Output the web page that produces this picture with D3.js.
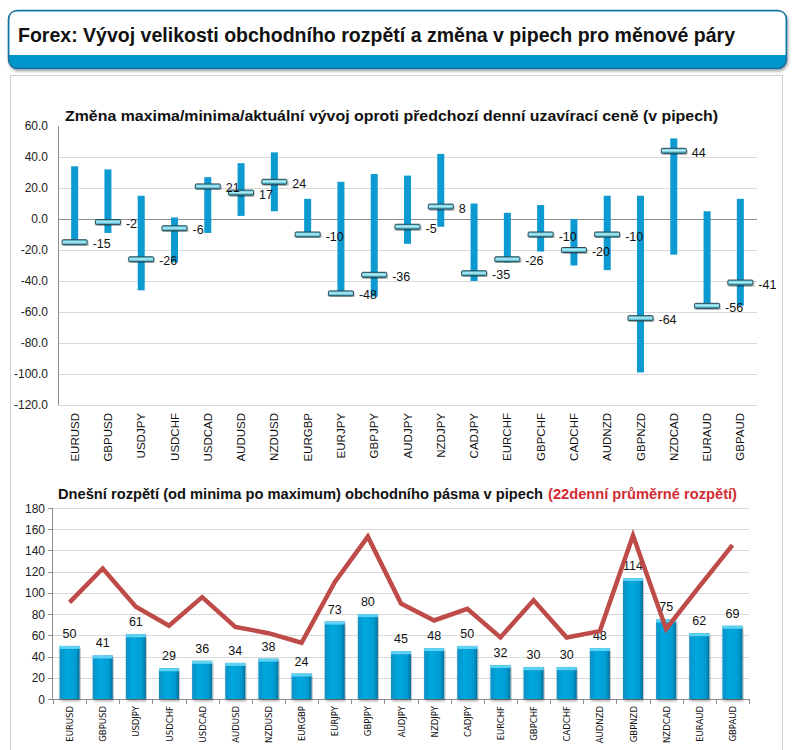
<!DOCTYPE html>
<html><head><meta charset="utf-8">
<script src="https://cdn.jsdelivr.net/npm/d3@7"></script>
<style>body{margin:0;background:#fff;}svg{display:block;}</style>
</head><body>
<svg id="c" width="795" height="750"></svg>
<script>
const pairs = ["EURUSD","GBPUSD","USDJPY","USDCHF","USDCAD","AUDUSD","NZDUSD","EURGBP","EURJPY","GBPJPY","AUDJPY","NZDJPY","CADJPY","EURCHF","GBPCHF","CADCHF","AUDNZD","GBPNZD","NZDCAD","EURAUD","GBPAUD"];
const changeHigh = [34,32,15,1,27,36,43,13,24,29,28,42,10,4,9,0,15,15,52,5,13];
const changeLow = [-16,-9,-46,-28,-9,2,5,-10,-48,-50,-16,-5,-40,-28,-21,-30,-33,-99,-23,-57,-56];
const changeNow = [-15,-2,-26,-6,21,17,24,-10,-48,-36,-5,8,-35,-26,-10,-20,-10,-64,44,-56,-41];
const topTicks = [60,40,20,0,-20,-40,-60,-80,-100,-120];
const rangeToday = [50,41,61,29,36,34,38,24,73,80,45,48,50,32,30,30,48,114,75,62,69];
const range22 = [91,123,87,69,96,68,62,53,110,153,90,74,85,58,93,58,64,154,66,106,145];
const botTicks = [0,20,40,60,80,100,120,140,160,180];

const svg = d3.select("#c");
const defs = svg.append("defs");
const sh = defs.append("filter").attr("id","sh").attr("x","-5%").attr("y","-10%").attr("width","110%").attr("height","130%");
sh.append("feDropShadow").attr("dx",1).attr("dy",2).attr("stdDeviation",1.5).attr("flood-color","#000").attr("flood-opacity",0.35);
const mg = defs.append("linearGradient").attr("id","mg").attr("x1",0).attr("y1",0).attr("x2",0).attr("y2",1);
mg.append("stop").attr("offset","0").attr("stop-color","#3fbcd6");
mg.append("stop").attr("offset","0.45").attr("stop-color","#b8eef7");
mg.append("stop").attr("offset","1").attr("stop-color","#1895b2");
const bg = defs.append("linearGradient").attr("id","bg").attr("x1",0).attr("y1",0).attr("x2",1).attr("y2",0);
bg.append("stop").attr("offset","0").attr("stop-color","#0890c6");
bg.append("stop").attr("offset","0.35").attr("stop-color","#04a8de");
bg.append("stop").attr("offset","0.8").attr("stop-color","#049cd3");
bg.append("stop").attr("offset","1").attr("stop-color","#05709c");

// Header box
const hdr = svg.append("g");
hdr.append("rect").attr("x",8.5).attr("y",10.5).attr("width",778).attr("height",58).attr("rx",9)
  .attr("fill","#0096cc").attr("stroke","#1b6e9c").attr("stroke-width",1.5).attr("filter","url(#sh)");
hdr.append("path").attr("d","M9.5,55 L9.5,19.5 Q9.5,11.5 17.5,11.5 L777.5,11.5 Q785.5,11.5 785.5,19.5 L785.5,55 Z").attr("fill","#fff");
hdr.append("text").attr("x",18).attr("y",42).attr("font-family","Liberation Sans, Arial, sans-serif")
  .attr("font-weight","bold").attr("font-size",21).attr("fill","#111")
  .attr("textLength",717).attr("lengthAdjust","spacingAndGlyphs")
  .text("Forex: Vývoj velikosti obchodního rozpětí a změna v pipech pro měnové páry");

// Panel
svg.append("rect").attr("x",10.5).attr("y",75.5).attr("width",772).attr("height",690).attr("fill","#fff").attr("stroke","#d0d0d0");

const font = "Liberation Sans, Arial, sans-serif";
const numFont = "Liberation Sans, Arial, sans-serif";

// ---------- Top chart ----------
const xT = d3.scaleBand().domain(pairs).range([58,757]);
const yT = d3.scaleLinear().domain([-120,60]).range([405,126]);
const gT = svg.append("g");
gT.append("text").attr("x",65).attr("y",121).attr("font-family",font).attr("font-weight","bold").attr("font-size",15)
  .attr("textLength",653).attr("lengthAdjust","spacingAndGlyphs").attr("fill","#111")
  .text("Změna maxima/minima/aktuální vývoj oproti předchozí denní uzavírací ceně (v pipech)");
gT.selectAll(".grid").data(topTicks.filter(t=>t!==60 && t!==0)).join("line")
  .attr("x1",58).attr("x2",757).attr("y1",d=>Math.round(yT(d))+0.5).attr("y2",d=>Math.round(yT(d))+0.5)
  .attr("stroke","#d9d9d9");
gT.append("line").attr("x1",58).attr("x2",757).attr("y1",Math.round(yT(0))+0.5).attr("y2",Math.round(yT(0))+0.5).attr("stroke","#8c8c8c");
gT.append("line").attr("x1",58.5).attr("x2",58.5).attr("y1",126).attr("y2",405).attr("stroke","#8c8c8c");
gT.selectAll(".yl").data(topTicks).join("text").attr("x",48).attr("y",d=>yT(d)+4)
  .attr("text-anchor","end").attr("font-family",numFont).attr("font-size",12).attr("fill","#222")
  .text(d=>d.toFixed(1));
gT.selectAll(".xl").data(pairs).join("text")
  .attr("transform",d=>`translate(${xT(d)+xT.bandwidth()/2+4},413) rotate(-90)`)
  .attr("text-anchor","end").attr("font-family",numFont).attr("font-size",11.5).attr("fill","#111").text(d=>d);
gT.selectAll(".rb").data(pairs).join("rect")
  .attr("x",d=>xT(d)+xT.bandwidth()/2-3.5).attr("width",7)
  .attr("y",(d,i)=>yT(changeHigh[i])).attr("height",(d,i)=>yT(changeLow[i])-yT(changeHigh[i]))
  .attr("fill","#0d9ad1");
gT.selectAll(".mk").data(pairs).join("rect")
  .attr("x",d=>xT(d)+xT.bandwidth()/2-12.5).attr("width",25)
  .attr("y",(d,i)=>yT(changeNow[i])-2.5).attr("height",5).attr("rx",1)
  .attr("fill","url(#mg)").attr("stroke","#2d4a52").attr("stroke-width",1).attr("filter","url(#sh)");
gT.selectAll(".vl").data(pairs).join("text")
  .attr("x",d=>xT(d)+xT.bandwidth()/2+18).attr("y",(d,i)=>yT(changeNow[i])+6)
  .attr("font-family",numFont).attr("font-size",12.5).attr("fill","#111").text((d,i)=>changeNow[i]);

// ---------- Bottom chart ----------
const xB = d3.scaleBand().domain(pairs).range([53,749]);
const yB = d3.scaleLinear().domain([0,180]).range([699,508]);
const gB = svg.append("g");
const tt = gB.append("text").attr("x",58).attr("y",499).attr("font-family",font).attr("font-weight","bold").attr("font-size",15);
tt.append("tspan").attr("fill","#111").attr("textLength",485).attr("lengthAdjust","spacingAndGlyphs")
  .text("Dnešní rozpětí (od minima po maximum) obchodního pásma v pipech");
tt.append("tspan").attr("x",548).attr("fill","#d22b34").attr("textLength",189).attr("lengthAdjust","spacingAndGlyphs")
  .text("(22denní průměrné rozpětí)");
gB.selectAll(".grid").data(botTicks.filter(t=>t>0)).join("line")
  .attr("x1",53).attr("x2",749).attr("y1",d=>Math.round(yB(d))+0.5).attr("y2",d=>Math.round(yB(d))+0.5)
  .attr("stroke","#d9d9d9");
gB.append("line").attr("x1",52.5).attr("x2",52.5).attr("y1",508).attr("y2",699).attr("stroke","#8c8c8c");
gB.append("line").attr("x1",52).attr("x2",749).attr("y1",699.5).attr("y2",699.5).attr("stroke","#8c8c8c");
gB.selectAll(".yt").data(botTicks).join("line").attr("x1",48).attr("x2",53)
  .attr("y1",d=>Math.round(yB(d))+0.5).attr("y2",d=>Math.round(yB(d))+0.5).attr("stroke","#8c8c8c");
gB.selectAll(".xt").data(pairs.concat(["_end"])).join("line")
  .attr("x1",(d,i)=>Math.round(53+i*xB.bandwidth())+0.5).attr("x2",(d,i)=>Math.round(53+i*xB.bandwidth())+0.5)
  .attr("y1",699).attr("y2",704).attr("stroke","#8c8c8c");
gB.selectAll(".yl").data(botTicks).join("text").attr("x",45).attr("y",d=>yB(d)+4.5)
  .attr("text-anchor","end").attr("font-family",numFont).attr("font-size",12).attr("fill","#222").text(d=>d);
gB.selectAll(".xl").data(pairs).join("text")
  .attr("transform",d=>`translate(${xB(d)+xB.bandwidth()/2+3.5},706) rotate(-90)`)
  .attr("text-anchor","end").attr("font-family","DejaVu Sans, Verdana, sans-serif").attr("font-size",8.5).attr("fill","#111").text(d=>d);
const bars = gB.selectAll(".bar").data(pairs).join("g");
bars.append("rect").attr("x",d=>xB(d)+xB.bandwidth()/2-10).attr("width",20)
  .attr("y",(d,i)=>yB(rangeToday[i])).attr("height",(d,i)=>yB(0)-yB(rangeToday[i]))
  .attr("fill","url(#bg)").attr("filter","url(#sh)");
bars.append("rect").attr("x",d=>xB(d)+xB.bandwidth()/2-10).attr("width",20)
  .attr("y",(d,i)=>yB(rangeToday[i])).attr("height",3).attr("fill","#5fd2f3");
gB.selectAll(".bl").data(pairs).join("text")
  .attr("x",d=>xB(d)+xB.bandwidth()/2).attr("y",(d,i)=>yB(rangeToday[i])-8)
  .attr("text-anchor","middle").attr("font-family",numFont).attr("font-size",12.5).attr("fill","#111").text((d,i)=>rangeToday[i]);
const line = d3.line().x(d=>xB(d.p)+xB.bandwidth()/2).y(d=>yB(d.v));
gB.append("path").datum(pairs.map((p,i)=>({p,v:range22[i]}))).attr("d",line)
  .attr("fill","none").attr("stroke","#be4b48").attr("stroke-width",4.5).attr("stroke-linejoin","miter").attr("stroke-miterlimit",4);
</script>
</body></html>
